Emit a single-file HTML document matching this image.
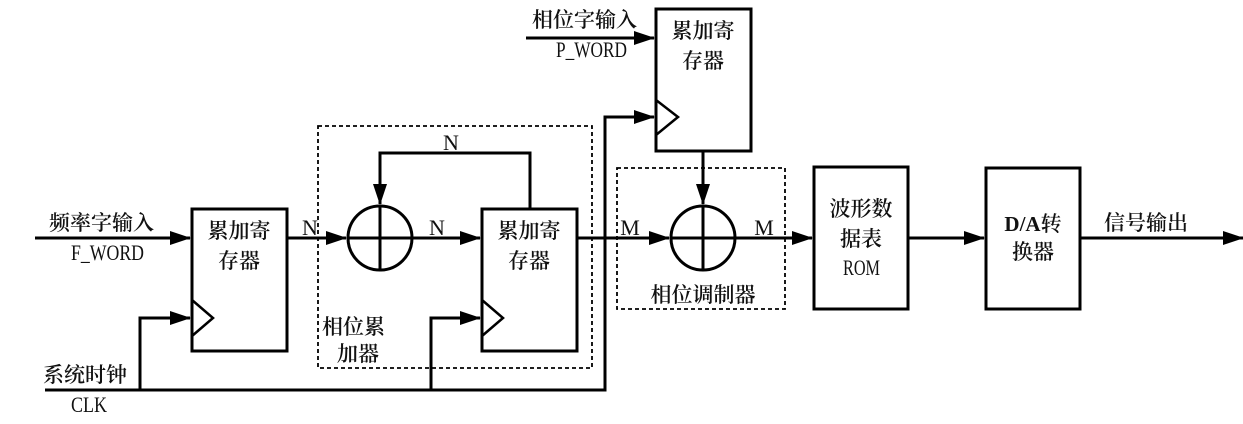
<!DOCTYPE html>
<html><head><meta charset="utf-8"><style>
html,body{margin:0;padding:0;background:#fff;}
svg text{font-family:"Liberation Serif","Noto Serif CJK SC",serif;fill:#111;font-weight:600;}
svg text.l{font-weight:normal;}
</style></head><body>
<svg width="1243" height="419" viewBox="0 0 1243 419" xmlns="http://www.w3.org/2000/svg">
<defs>
<marker id="a" markerWidth="22" markerHeight="14" refX="20" refY="7" orient="auto" markerUnits="userSpaceOnUse">
<path d="M0,0 L21,7 L0,14 Z" fill="#000"/></marker>
</defs>
<g stroke="#000" stroke-width="3" fill="none">
<rect x="192" y="209" width="95" height="142"/>
<rect x="482" y="209" width="95" height="142"/>
<rect x="656" y="9" width="95" height="142"/>
<rect x="814" y="167" width="94" height="142"/>
<rect x="986" y="168" width="94" height="141"/>
<path d="M192,300 L213,318 L192,336" stroke-width="2.5"/>
<path d="M482,300 L503,318 L482,336" stroke-width="2.5"/>
<path d="M656,100 L678,117 L656,135" stroke-width="2.5"/>
<circle cx="380" cy="238" r="32"/>
<path d="M348,238 H412 M380,206 V270"/>
<circle cx="703" cy="238" r="32"/>
<path d="M671,238 H735 M703,206 V270"/>
<path d="M35,238 H190" marker-end="url(#a)"/>
<path d="M287,238 H346" marker-end="url(#a)"/>
<path d="M412,238 H480" marker-end="url(#a)"/>
<path d="M577,238 H669" marker-end="url(#a)"/>
<path d="M735,238 H812" marker-end="url(#a)"/>
<path d="M908,238 H984" marker-end="url(#a)"/>
<path d="M1080,238 H1243" marker-end="url(#a)"/>
<path d="M530,209 V153 H380 V204" marker-end="url(#a)"/>
<path d="M526,38 H654" marker-end="url(#a)"/>
<path d="M703,151 V204" marker-end="url(#a)"/>
<path d="M45,390 H605 V117 H654" marker-end="url(#a)"/>
<path d="M140,390 V318 H190" marker-end="url(#a)"/>
<path d="M431,390 V318 H480" marker-end="url(#a)"/>
</g>
<g stroke="#000" stroke-width="1.8" fill="none" stroke-dasharray="4,3">
<rect x="318" y="126" width="274" height="242"/>
<rect x="617" y="168" width="168" height="141"/>
</g>
<g font-size="21">
<text x="49" y="230">频率字输入</text>
<text class="l" x="71" y="260" font-size="22" textLength="73" lengthAdjust="spacingAndGlyphs">F_WORD</text>
<text x="43" y="382">系统时钟</text>
<text class="l" x="71" y="412" font-size="22" textLength="36" lengthAdjust="spacingAndGlyphs">CLK</text>
<text x="239" y="238" text-anchor="middle">累加寄</text>
<text x="239" y="268" text-anchor="middle">存器</text>
<text x="529" y="238" text-anchor="middle">累加寄</text>
<text x="529" y="268" text-anchor="middle">存器</text>
<text x="703" y="38" text-anchor="middle">累加寄</text>
<text x="703" y="68" text-anchor="middle">存器</text>
<text x="532" y="27">相位字输入</text>
<text class="l" x="556" y="57" font-size="22" textLength="71" lengthAdjust="spacingAndGlyphs">P_WORD</text>
<text x="322" y="334">相位累</text>
<text x="337" y="361">加器</text>
<text x="703" y="302" text-anchor="middle">相位调制器</text>
<text x="861" y="216" text-anchor="middle">波形数</text>
<text x="861" y="246" text-anchor="middle">据表</text>
<text class="l" x="843" y="275" font-size="22" textLength="37" lengthAdjust="spacingAndGlyphs">ROM</text>
<text x="1033" y="231" text-anchor="middle">D/A转</text>
<text x="1033" y="259" text-anchor="middle">换器</text>
<text x="1104" y="230">信号输出</text>
<text class="l" x="310" y="235" text-anchor="middle" font-size="22">N</text>
<text class="l" x="437" y="235" text-anchor="middle" font-size="22">N</text>
<text class="l" x="451" y="150" text-anchor="middle" font-size="22">N</text>
<text class="l" x="630" y="235" text-anchor="middle" font-size="22">M</text>
<text class="l" x="764" y="235" text-anchor="middle" font-size="22">M</text>
</g>
</svg>
</body></html>
